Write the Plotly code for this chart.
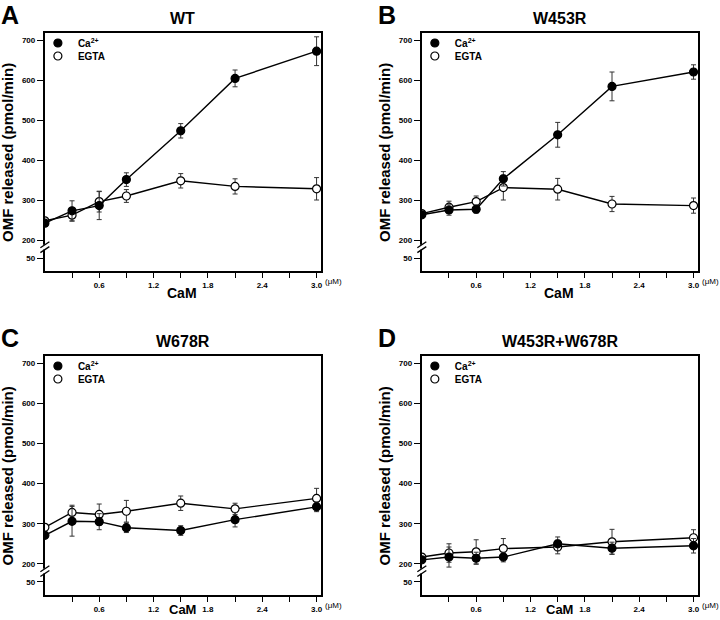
import plotly.graph_objects as go

# CaM concentration (uM)
conc = [0, 0.3, 0.6, 0.9, 1.5, 2.1, 3.0]

# OMF released (pmol/min)
wt_ca = [242, 273, 286, 351, 473, 604, 672]
wt_ca_err = [8, 25, 35, 17, 18, 21, 36]
wt_egta = [248, 262, 296, 310, 348, 334, 328]
wt_egta_err = [6, 15, 26, 16, 18, 19, 28]

w453r_ca = [263, 275, 277, 353, 463, 584, 620]
w453r_ca_err = [6, 13, 10, 18, 31, 36, 18]
w453r_egta = [266, 282, 296, 331, 327, 290, 286]
w453r_egta_err = [6, 15, 14, 31, 27, 19, 19]

w678r_ca = [271, 306, 305, 290, 283, 310, 342]
w678r_ca_err = [6, 37, 20, 12, 12, 18, 12]
w678r_egta = [291, 328, 323, 331, 351, 337, 363]
w678r_egta_err = [5, 18, 26, 27, 18, 14, 25]

dbl_ca = [210, 217, 214, 217, 250, 239, 245]
dbl_ca_err = [6, 25, 15, 12, 17, 15, 18]
dbl_egta = [217, 227, 230, 238, 242, 255, 265]
dbl_egta_err = [5, 23, 30, 25, 17, 31, 20]

x_ticks = [0.6, 1.2, 1.8, 2.4, 3.0]
y_ticks = [155, 200, 300, 400, 500, 600, 700]
y_labels = ["50", "200", "300", "400", "500", "600", "700"]

titles = ["WT", "W453R", "W678R", "W453R+W678R"]
letters = ["A", "B", "C", "D"]
panels = [
    (wt_ca, wt_ca_err, wt_egta, wt_egta_err),
    (w453r_ca, w453r_ca_err, w453r_egta, w453r_egta_err),
    (w678r_ca, w678r_ca_err, w678r_egta, w678r_egta_err),
    (dbl_ca, dbl_ca_err, dbl_egta, dbl_egta_err),
]

W, H = 720, 620
FONT = "Liberation Sans"
YR = [122.5, 717.5]

# pixel boxes of each plot area: left, right, top, bottom
boxes = [(45, 322, 33, 271), (423, 700, 33, 271),
         (45, 322, 356, 595), (423, 700, 356, 595)]


def txt(text, x, y, size, angle=0, bold=True):
    return dict(text="<b>%s</b>" % text if bold else text,
                x=x / W, y=1 - y / H, xref="paper", yref="paper",
                xanchor="center", yanchor="middle", showarrow=False,
                textangle=angle, font=dict(family=FONT, size=size, color="black"))


fig = go.Figure()
layout = {}
shapes = []
annotations = []
nleg = 0

for i, (ca, ca_err, eg, eg_err) in enumerate(panels):
    n = "" if i == 0 else str(i + 1)
    xa, ya = "x" + n, "y" + n
    l, r, t, b = boxes[i]

    for yv, err, filled in [(eg, eg_err, False), (ca, ca_err, True)]:
        fig.add_trace(go.Scatter(
            x=conc, y=yv, xaxis=xa, yaxis=ya, mode="lines+markers",
            line=dict(color="black", width=1.4),
            marker=dict(size=8, color="black" if filled else "white",
                        line=dict(color="black", width=1.2)),
            error_y=dict(type="data", array=err, color="#333333",
                         thickness=1, width=2.5),
            showlegend=False,
        ))

    # one small legend per entry so the rows sit where the reference has them
    for k, (name, filled) in enumerate([("Ca<sup>2+</sup>", True), ("EGTA", False)]):
        nleg += 1
        leg = "legend" if nleg == 1 else "legend%d" % nleg
        fig.add_trace(go.Scatter(
            x=[None], y=[None], xaxis=xa, yaxis=ya, mode="markers", name=name,
            marker=dict(size=8, color="black" if filled else "white",
                        line=dict(color="black", width=1.2)),
            legend=leg,
        ))
        layout[leg] = dict(
            x=(l - 7) / W, y=1 - (t + 10 + 13 * k) / H,
            xanchor="left", yanchor="middle",
            bgcolor="rgba(0,0,0,0)", itemwidth=30,
            font=dict(family=FONT, size=10, color="black", weight="bold"),
        )

    layout["xaxis" + n] = dict(
        domain=[l / W, r / W], anchor=ya, range=[0, 3.05],
        tickvals=x_ticks, tickformat=".1f",
        ticks="outside", ticklen=5, tickwidth=1.3, tickcolor="black",
        minor=dict(tick0=0.3, dtick=0.6, ticks="outside", ticklen=5,
                   tickwidth=1.3, tickcolor="black", showgrid=False),
        showline=True, linewidth=2, linecolor="black", mirror=True,
        showgrid=False, zeroline=False,
        tickfont=dict(family=FONT, size=8, color="black", weight="bold"),
    )
    layout["yaxis" + n] = dict(
        domain=[1 - b / H, 1 - t / H], anchor=xa, range=YR,
        tickvals=y_ticks, ticktext=y_labels,
        ticks="outside", ticklen=6, tickwidth=1.3, tickcolor="black",
        showline=True, linewidth=2, linecolor="black", mirror=True,
        showgrid=False, zeroline=False,
        tickfont=dict(family=FONT, size=8, color="black", weight="bold"),
    )

    # axis break marks
    def fy(v):
        return (v - YR[0]) / (YR[1] - YR[0])
    pw, ph = r - l, b - t
    dx, dy = 4.5 / pw, 3 / ph
    c1, c2 = fy(176), fy(188)
    shapes.append(dict(type="rect", xref=xa + " domain", yref=ya + " domain",
                       x0=-6 / pw, x1=6 / pw, y0=c1, y1=c2,
                       fillcolor="white", line=dict(width=0), layer="above"))
    for c in (c1, c2):
        shapes.append(dict(type="line", xref=xa + " domain", yref=ya + " domain",
                           x0=-dx, x1=dx, y0=c - dy, y1=c + dy,
                           line=dict(color="black", width=1.3), layer="above"))

    cam_dy = 22 if i < 2 else 14
    annotations += [
        txt(titles[i], (l + r) / 2, t - 15, 16),
        txt(letters[i], l - 35, t - 18, 25),
        txt("OMF released (pmol/min)", l - 37, (t + b) / 2, 15, angle=-90),
        txt("CaM", l + 138, b + cam_dy, 14 if i < 2 else 13),
        txt("(\u03bcM)", r + 12, b + 10, 8, bold=False),
    ]

fig.update_layout(
    width=W, height=H, margin=dict(l=0, r=0, t=0, b=0),
    paper_bgcolor="white", plot_bgcolor="white",
    shapes=shapes, annotations=annotations, **layout,
)
fig.write_html("out.html", config={"displayModeBar": False},
               post_script="document.body.style.margin='0px';")
